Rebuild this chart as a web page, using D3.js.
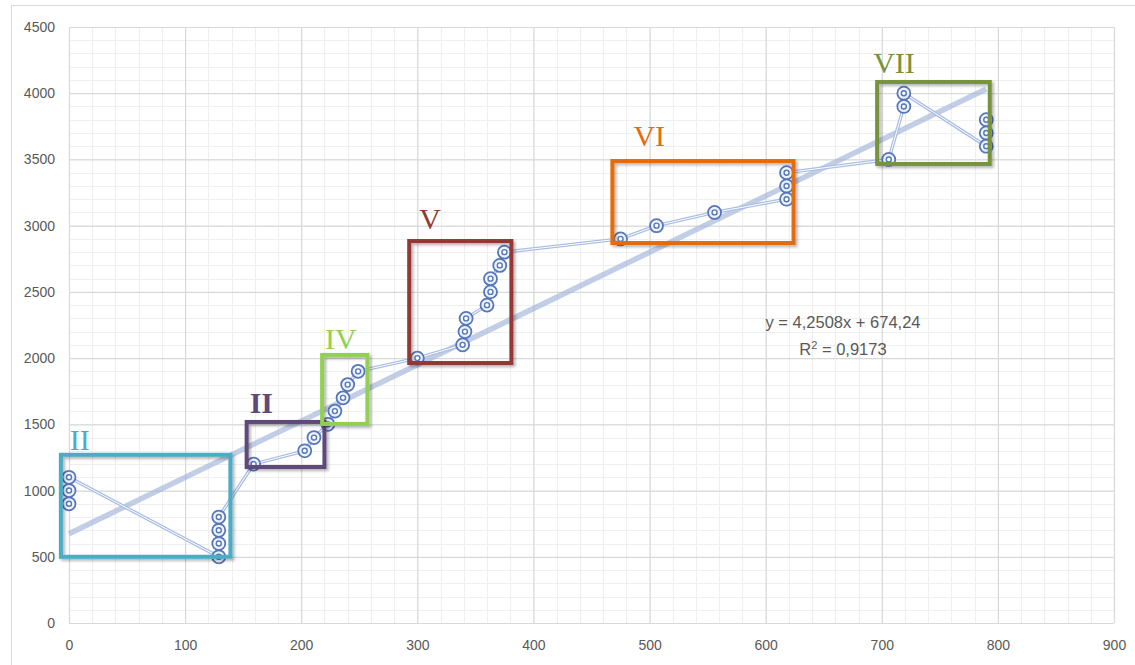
<!DOCTYPE html>
<html>
<head>
<meta charset="utf-8">
<script src="https://cdn.jsdelivr.net/npm/d3@7"></script>
<style>
  html, body { margin: 0; padding: 0; background: #fff; }
  svg { display: block; }
</style>
</head>
<body>
<svg id="chart" width="1135" height="665"></svg>
<script>
// Measured points (x, y), in the order they are connected
const xValues = [0, 0, 0, 129, 129, 129, 129, 159, 203, 211, 223, 229, 236, 240, 249,
                 300, 339, 341, 342, 360, 363, 363, 371, 375,
                 475, 506, 556, 618, 618, 618, 706, 719, 719, 790, 790, 790];
const yValues = [900, 1000, 1100, 500, 600, 700, 800, 1200, 1300, 1400, 1500, 1600, 1700, 1800, 1900,
                 2000, 2100, 2200, 2300, 2400, 2500, 2600, 2700, 2800,
                 2900, 3000, 3100, 3200, 3300, 3400, 3500, 3900, 4000, 3600, 3700, 3800];

// Linear trend
const trendSlope = 4.2508;
const trendIntercept = 674.24;
const rSquared = 0.9173;

// Axis ticks
const xTicks = [0, 100, 200, 300, 400, 500, 600, 700, 800, 900];
const yTicks = [0, 500, 1000, 1500, 2000, 2500, 3000, 3500, 4000, 4500];

// Highlighted zones (data units)
const zoneLabels = ["II", "II", "IV", "V", "VI", "VII"];
const zoneX0 = [-7, 153, 218, 293, 468, 696];
const zoneX1 = [139, 220, 257, 381, 624, 793];
const zoneY0 = [500, 1178, 1503, 1963, 2869, 3466];
const zoneY1 = [1270, 1518, 2024, 2884, 3488, 4085];

// Zone styling
const zoneColors = ["#4bacc6", "#5f497a", "#92d050", "#953735", "#e46c0a", "#77933c"];
const zoneLabelBold = [false, true, false, false, false, false];
const zoneLabelDx = [9, 3, 3, 10, 21, -4];
const zoneLabelDy = [-5, -9, -6, -12, -15, -9];

const svg = d3.select("#chart");
const W = 1135, H = 665;
const plot = { left: 69, right: 1114, top: 27, bottom: 623 };

const x = d3.scaleLinear().domain([0, 900]).range([plot.left, plot.right]);
const y = d3.scaleLinear().domain([0, 4500]).range([plot.bottom, plot.top]);

// Chart area frame
svg.append("rect")
  .attr("x", 11.5).attr("y", 5.5).attr("width", W).attr("height", H)
  .attr("fill", "#fff").attr("stroke", "#d9d9d9").attr("stroke-width", 1);

const defs = svg.append("defs");
const shadow = defs.append("filter").attr("id", "shadow")
  .attr("x", "-10%").attr("y", "-10%").attr("width", "130%").attr("height", "130%");
shadow.append("feDropShadow")
  .attr("dx", 2).attr("dy", 2).attr("stdDeviation", 1.5)
  .attr("flood-color", "#000").attr("flood-opacity", 0.3);

// Minor grid
const grid = svg.append("g");
grid.selectAll("line.vminor")
  .data(d3.range(0, 901, 20))
  .join("line")
  .attr("x1", d => Math.round(x(d)) + 0.5).attr("x2", d => Math.round(x(d)) + 0.5)
  .attr("y1", plot.top).attr("y2", plot.bottom)
  .attr("stroke", "#efefef").attr("stroke-width", 1.2);
grid.selectAll("line.hminor")
  .data(d3.range(0, 4501, 100))
  .join("line")
  .attr("y1", d => Math.round(y(d)) + 0.5).attr("y2", d => Math.round(y(d)) + 0.5)
  .attr("x1", plot.left).attr("x2", plot.right)
  .attr("stroke", "#efefef").attr("stroke-width", 1.2);

// Major grid via axes
const xAxisGrid = d3.axisBottom(x).tickValues(xTicks).tickSize(-(plot.bottom - plot.top)).tickFormat("");
const yAxisGrid = d3.axisLeft(y).tickValues(yTicks).tickSize(-(plot.right - plot.left)).tickFormat("");
svg.append("g").attr("transform", `translate(0,${plot.bottom})`).call(xAxisGrid)
  .call(g => g.select(".domain").remove())
  .call(g => g.selectAll("line").attr("stroke", "#d9d9d9").attr("stroke-width", 1.2));
svg.append("g").attr("transform", `translate(${plot.left},0)`).call(yAxisGrid)
  .call(g => g.select(".domain").remove())
  .call(g => g.selectAll("line").attr("stroke", "#d9d9d9").attr("stroke-width", 1.2));

// Tick labels
const xAxis = d3.axisBottom(x).tickValues(xTicks).tickFormat(d3.format("d")).tickSize(0).tickPadding(17);
const yAxis = d3.axisLeft(y).tickValues(yTicks).tickFormat(d3.format("d")).tickSize(0).tickPadding(14);
svg.append("g").attr("transform", `translate(0,${plot.bottom})`).call(xAxis)
  .call(g => g.select(".domain").remove())
  .call(g => g.selectAll("text").attr("fill", "#595959")
    .style("font-family", "'Liberation Sans', Arial, sans-serif").style("font-size", "14px"));
svg.append("g").attr("transform", `translate(${plot.left},0)`).call(yAxis)
  .call(g => g.select(".domain").remove())
  .call(g => g.selectAll("text").attr("fill", "#595959")
    .style("font-family", "'Liberation Sans', Arial, sans-serif").style("font-size", "14px"));

// Trend line across the data range
const xMin = d3.min(xValues), xMax = d3.max(xValues);
svg.append("line")
  .attr("x1", x(xMin)).attr("y1", y(trendSlope * xMin + trendIntercept))
  .attr("x2", x(xMax)).attr("y2", y(trendSlope * xMax + trendIntercept))
  .attr("stroke", "#9fb3d8").attr("stroke-opacity", 0.65)
  .attr("stroke-width", 5.5).attr("stroke-linecap", "butt");

// Connected series (double line)
const pts = xValues.map((v, i) => [v, yValues[i]]);
const line = d3.line().x(d => x(d[0])).y(d => y(d[1]));
svg.append("path").attr("d", line(pts))
  .attr("fill", "none").attr("stroke", "#a9bde3").attr("stroke-width", 3.4)
  .attr("stroke-linejoin", "round");
svg.append("path").attr("d", line(pts))
  .attr("fill", "none").attr("stroke", "#ffffff").attr("stroke-width", 1)
  .attr("stroke-linejoin", "round");

// Markers: ring with inner ring
const markers = svg.append("g");
markers.selectAll("circle.outer")
  .data(pts).join("circle")
  .attr("cx", d => x(d[0])).attr("cy", d => y(d[1])).attr("r", 6.5)
  .attr("fill", "#eef2fa").attr("fill-opacity", 0.85)
  .attr("stroke", "#5577bb").attr("stroke-width", 1.8);
markers.selectAll("circle.inner")
  .data(pts).join("circle")
  .attr("cx", d => x(d[0])).attr("cy", d => y(d[1])).attr("r", 2.5)
  .attr("fill", "#ffffff")
  .attr("stroke", "#5577bb").attr("stroke-width", 1.4);

// Zones
const zones = zoneLabels.map((t, i) => ({
  label: t, x0: zoneX0[i], x1: zoneX1[i], y0: zoneY0[i], y1: zoneY1[i],
  color: zoneColors[i], bold: zoneLabelBold[i], dx: zoneLabelDx[i], dy: zoneLabelDy[i]
}));
const zg = svg.append("g");
zg.selectAll("rect")
  .data(zones).join("rect")
  .attr("x", d => x(d.x0)).attr("y", d => y(d.y1))
  .attr("width", d => x(d.x1) - x(d.x0)).attr("height", d => y(d.y0) - y(d.y1))
  .attr("fill", "none").attr("stroke", d => d.color).attr("stroke-width", 4)
  .attr("filter", "url(#shadow)");
zg.selectAll("text")
  .data(zones).join("text")
  .attr("x", d => x(d.x0) + d.dx).attr("y", d => y(d.y1) + d.dy)
  .attr("fill", d => d.color)
  .style("font-family", "'Liberation Serif', 'Times New Roman', serif")
  .style("font-size", "30px")
  .style("font-weight", d => d.bold ? "bold" : "normal")
  .text(d => d.label);

// Trend equation
const fmt = v => String(v).replace(".", ",");
const eq = svg.append("g")
  .style("font-family", "'Liberation Sans', Arial, sans-serif")
  .style("font-size", "16.5px").attr("fill", "#595959");
eq.append("text").attr("x", 843).attr("y", 328).attr("text-anchor", "middle")
  .text(`y = ${fmt(trendSlope)}x + ${fmt(trendIntercept)}`);
const r2 = eq.append("text").attr("x", 843).attr("y", 355).attr("text-anchor", "middle");
r2.append("tspan").text("R");
r2.append("tspan").attr("dy", -6).style("font-size", "11px").text("2");
r2.append("tspan").attr("dy", 6).text(` = ${fmt(rSquared)}`);
</script>
</body>
</html>
